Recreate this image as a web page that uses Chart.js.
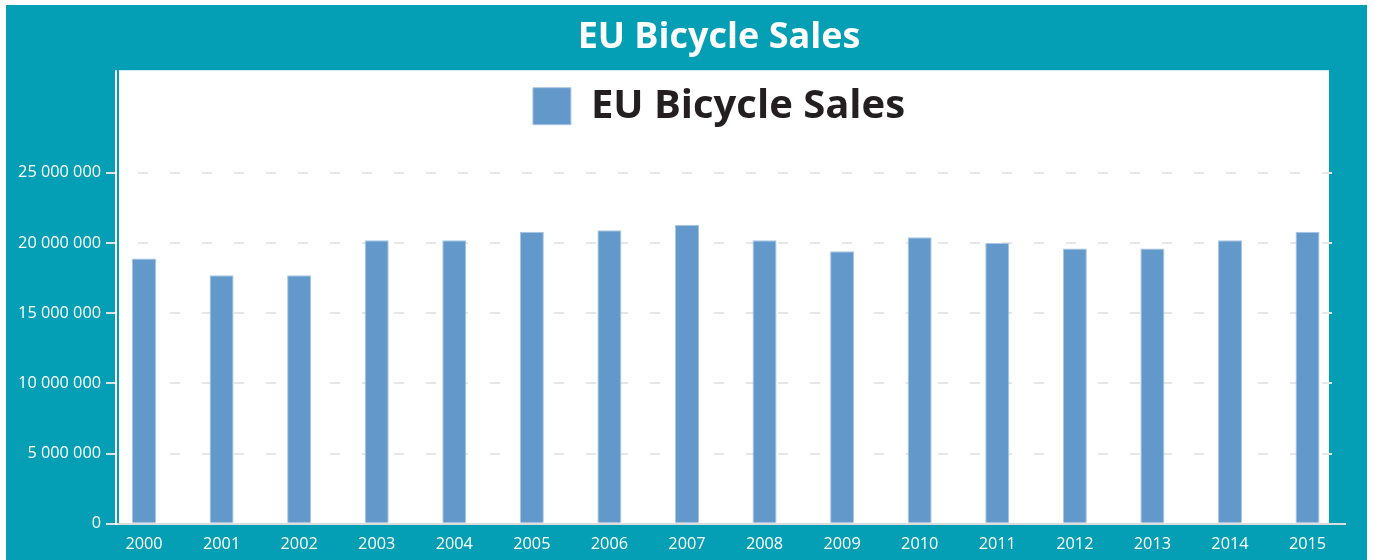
<!DOCTYPE html>
<html>
<head>
<meta charset="utf-8">
<title>EU Bicycle Sales</title>
<script src="https://cdn.jsdelivr.net/npm/chart.js@4/dist/chart.umd.min.js"></script>
<style>
    body { margin: 0; background: #ffffff; }
    canvas { display: block; }
</style>
</head>
<body>
<canvas id="myChart" width="1373" height="560"></canvas>
<script>
    // values
    const chartTitle = "EU Bicycle Sales";
    const seriesName = "EU Bicycle Sales";
    const years = [2000, 2001, 2002, 2003, 2004, 2005, 2006, 2007, 2008, 2009, 2010, 2011, 2012, 2013, 2014, 2015];
    const sales = [18900000, 17700000, 17700000, 20200000, 20200000, 20800000, 20900000, 21300000,
        20200000, 19400000, 20400000, 20000000, 19600000, 19600000, 20200000, 20800000];
    const yTicks = [0, 5000000, 10000000, 15000000, 20000000, 25000000];

    const colors = {
        teal: "#049fb4",
        bar: "#6398ca",
        barEdge: "#a9c6e3",
        grid: "#e6e6e6",
        legendText: "#231f20"
    };

    Chart.defaults.font.family = "'Open Sans', sans-serif";

    // teal frame + white plot panel behind everything
    const framePlugin = {
        id: "frame",
        afterLayout(chart) {
            // title and legend are centred over the panel incl. the label column
            const left = chart.chartArea.left - 23;
            [chart.titleBlock, chart.legend].forEach((box) => {
                if (box) box.left = left;
            });
        },
        beforeDraw(chart) {
            const {ctx, chartArea} = chart;
            const top = chart.titleBlock ? chart.titleBlock.bottom : chartArea.top;
            ctx.save();
            ctx.fillStyle = colors.teal;
            ctx.fillRect(6, 5, chart.width - 12, chart.height - 5);
            ctx.fillStyle = "#ffffff";
            ctx.fillRect(chartArea.left + 3, top, chartArea.right - chartArea.left - 19, chartArea.bottom - top);
            // axis line carries on up to the top of the panel
            ctx.strokeStyle = "#ffffff";
            ctx.lineWidth = 2;
            ctx.beginPath();
            ctx.moveTo(chartArea.left, top);
            ctx.lineTo(chartArea.left, chartArea.top);
            ctx.stroke();
            ctx.restore();
        }
    };

    const ctx = document.getElementById("myChart").getContext("2d");
    const myChart = new Chart(ctx, {
        type: "bar",
        data: {
            labels: years,
            datasets: [
                {
                    label: seriesName,
                    data: sales,
                    backgroundColor: colors.bar,
                    borderColor: colors.barEdge,
                    borderWidth: 1,
                    barPercentage: 0.31,
                    categoryPercentage: 1
                }
            ]
        },
        options: {
            responsive: false,
            animation: false,
            layout: {
                padding: {left: 10, right: 28, top: 5, bottom: -5}
            },
            scales: {
                x: {
                    type: "linear",
                    offset: false,
                    min: 1999.639,
                    max: 2015.483,
                    grid: {display: false, drawTicks: false, offset: false},
                    border: {display: true, color: "#dcdcdc", width: 2},
                    ticks: {
                        stepSize: 1,
                        includeBounds: false,
                        color: "#ffffff",
                        padding: 10.8,
                        maxRotation: 0,
                        autoSkip: false,
                        font: {size: 16.3},
                        callback: (v) => String(v)
                    }
                },
                y: {
                    min: 0,
                    max: 27600000,
                    afterFit(scale) {
                        scale.width = 106;
                    },
                    afterBuildTicks(scale) {
                        scale.ticks = yTicks.map((v) => ({value: v}));
                    },
                    grid: {
                        color: colors.grid,
                        lineWidth: 2,
                        tickLength: 10,
                        tickColor: "#e0e0e0",
                        tickWidth: 2
                    },
                    border: {display: true, color: "#ffffff", width: 2, dash: [10, 22], dashOffset: 11},
                    ticks: {
                        color: "#ffffff",
                        padding: 5,
                        font: {size: 16.3},
                        callback: (v) => v.toLocaleString("en-US").replace(/,/g, " ")
                    }
                }
            },
            plugins: {
                title: {
                    display: true,
                    text: chartTitle,
                    color: "#ffffff",
                    font: {size: 36, weight: "bold"},
                    padding: {top: 11, bottom: 11}
                },
                legend: {
                    labels: {
                        color: colors.legendText,
                        boxWidth: 38,
                        boxHeight: 37,
                        padding: 16,
                        font: {size: 40, weight: "bold"}
                    }
                },
                tooltip: {enabled: false}
            }
        },
        plugins: [framePlugin]
    });
</script>
</body>
</html>
